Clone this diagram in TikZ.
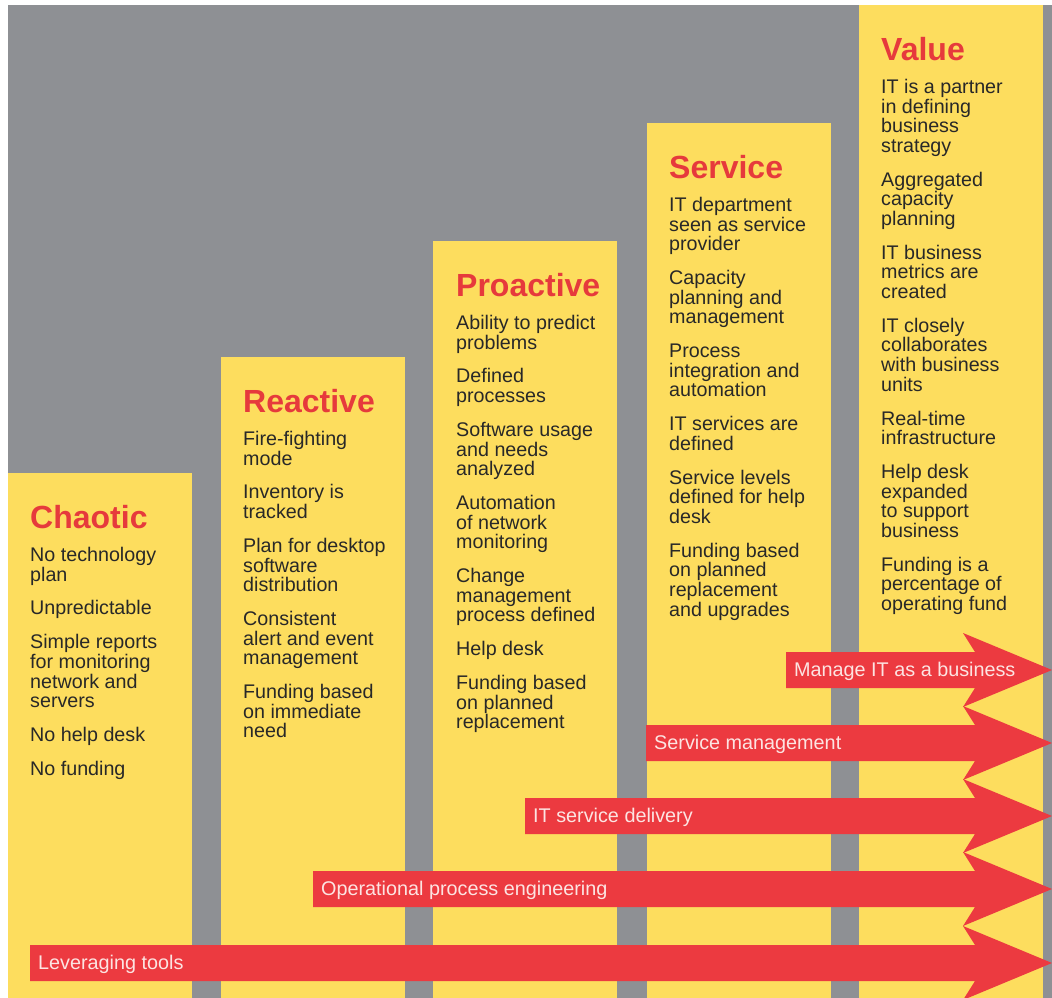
\documentclass[tikz,border=0pt]{standalone}
\usepackage{fontspec}
\setmainfont{Liberation Sans}

\definecolor{bggray}{HTML}{8E9094}
\definecolor{stageyellow}{HTML}{FDDD5E}
\definecolor{arrowred}{HTML}{EC3A40}
\definecolor{titlered}{HTML}{E63A3C}
\definecolor{itemtext}{HTML}{282828}
\definecolor{arrowtext}{HTML}{FCE4E2}

\tikzset{
    stagetitle/.style={anchor=base west, inner sep=0pt, text=titlered,
        font=\fontsize{32}{32}\selectfont\bfseries},
    stageitems/.style={anchor=north west, inner sep=0pt, text=itemtext, align=left,
        font=\fontsize{19.7}{19.6}\selectfont},
    arrowlabel/.style={anchor=west, inner sep=0pt, text=arrowtext,
        font=\fontsize{19.8}{20}\selectfont},
}

\begin{document}
\begin{tikzpicture}[x=1pt, y=-1pt]

\useasboundingbox (0, 0) rectangle (1052, 998);
\fill[bggray] (8, 5) rectangle (1052, 998);

\foreach \left/\top in {8/473, 221/357, 433/241, 647/123, 859/5}{
    \fill[stageyellow] (\left, \top) rectangle ({\left+184}, 998);
}

\node[stagetitle] (chaotic) at (30, 528) {Chaotic};
\node[stageitems] (chaotic-items) at (30, 547) {No technology\\plan\\[14.3pt]
    Unpredictable\\[14.3pt]
    Simple reports\\for monitoring\\network and\\servers\\[14.3pt]
    No help desk\\[14.3pt]
    No funding};

\node[stagetitle] (reactive) at (243, 412) {Reactive};
\node[stageitems] (reactive-items) at (243, 431) {Fire-fighting\\mode\\[14.3pt]
    Inventory is\\tracked\\[14.3pt]
    Plan for desktop\\software\\distribution\\[14.3pt]
    Consistent\\alert and event\\management\\[14.3pt]
    Funding based\\on immediate\\need};

\node[stagetitle] (proactive) at (456, 296) {Proactive};
\node[stageitems] (proactive-items) at (456, 315) {Ability to predict\\problems\\[14.3pt]
    Defined\\processes\\[14.3pt]
    Software usage\\and needs\\analyzed\\[14.3pt]
    Automation\\of network\\monitoring\\[14.3pt]
    Change\\management\\process defined\\[14.3pt]
    Help desk\\[14.3pt]
    Funding based\\on planned\\replacement};

\node[stagetitle] (service) at (669, 178) {Service};
\node[stageitems] (service-items) at (669, 197) {IT department\\seen as service\\provider\\[14.3pt]
    Capacity\\planning and\\management\\[14.3pt]
    Process\\integration and\\automation\\[14.3pt]
    IT services are\\defined\\[14.3pt]
    Service levels\\defined for help\\desk\\[14.3pt]
    Funding based\\on planned\\replacement\\and upgrades};

\node[stagetitle] (value) at (881, 60) {Value};
\node[stageitems] (value-items) at (881, 79) {IT is a partner\\in defining\\business\\strategy\\[14.3pt]
    Aggregated\\capacity\\planning\\[14.3pt]
    IT business\\metrics are\\created\\[14.3pt]
    IT closely\\collaborates\\with business\\units\\[14.3pt]
    Real-time\\infrastructure\\[14.3pt]
    Help desk\\expanded\\to support\\business\\[14.3pt]
    Funding is a\\percentage of\\operating fund};

\foreach \y/\xs/\lab [count=\i] in {670/786/Manage IT as a business, 743/646/Service management,
        816/525/IT service delivery, 889/313/Operational process engineering, 963/30/Leveraging tools}{
    \fill[arrowred] (\xs, {\y-18}) -- (975, {\y-18}) -- (963, {\y-37}) -- (1052, \y)
        -- (963, {\y+37}) -- (975, {\y+18}) -- (\xs, {\y+18}) -- cycle;
    \node[arrowlabel] (arrow-\i) at ({\xs+8}, {\y+1}) {\lab};
}

\end{tikzpicture}
\end{document}
